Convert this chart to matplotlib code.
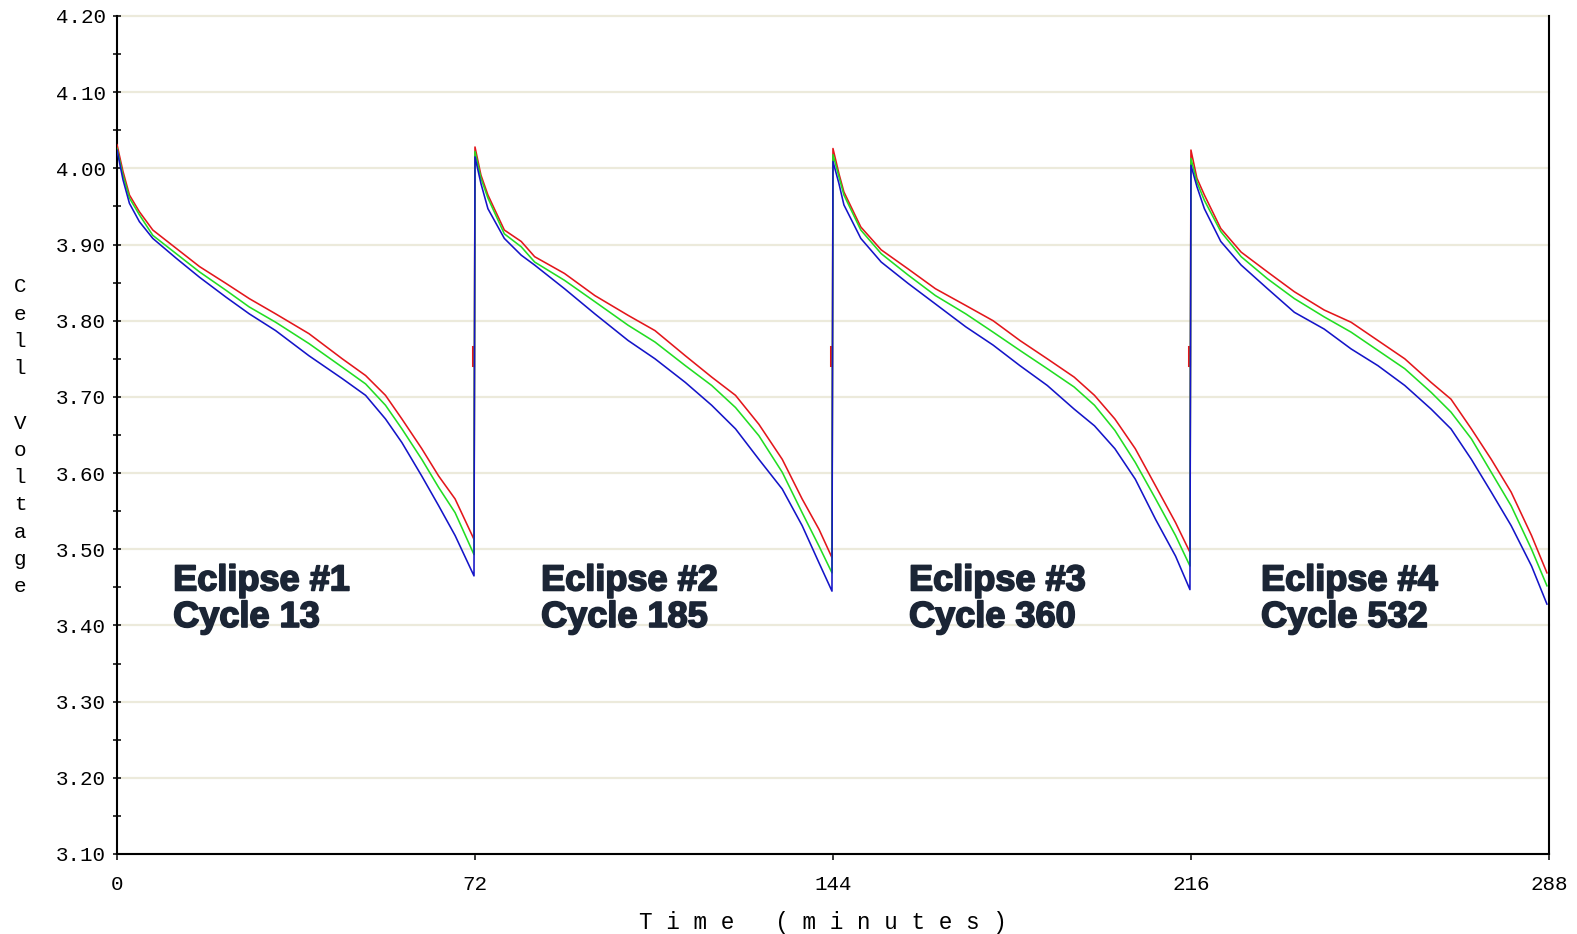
import numpy as np
import matplotlib
matplotlib.use("Agg")
import matplotlib.pyplot as plt
import matplotlib.patheffects as pe
from matplotlib.ticker import MultipleLocator, FormatStrFormatter

# minutes into each eclipse (each eclipse lasts 72 minutes)
t_e1 = [0, 1.2, 2.5, 4.5, 7.2, 11.9, 16.6, 21.9, 26.6, 31.9, 38.6, 45.3, 50.0, 54.0, 57.3, 61.3, 64.7, 68.0, 71.8]
t_e2 = [0, 1.2, 2.6, 5.9, 9.3, 12.0, 18.0, 24.1, 30.8, 36.2, 42.3, 47.6, 52.4, 57.1, 61.8, 65.8, 69.2, 71.8]
t_e3 = [0, 1.2, 2.2, 5.6, 9.7, 15.1, 20.6, 26.7, 32.2, 37.6, 43.1, 48.5, 52.6, 56.7, 60.8, 64.9, 68.9, 71.8]
t_e4 = [0, 1.2, 2.7, 6.0, 10.1, 15.4, 20.8, 26.8, 32.2, 37.6, 43.0, 48.3, 52.3, 56.4, 60.4, 64.4, 68.5, 71.6]

# cell voltages (V)
red_e1 = [4.031, 3.996, 3.965, 3.943, 3.919, 3.895, 3.871, 3.849, 3.829, 3.809, 3.783, 3.750, 3.728, 3.702, 3.671, 3.632, 3.596, 3.566, 3.513]
green_e1 = [4.026, 3.991, 3.961, 3.939, 3.912, 3.888, 3.864, 3.840, 3.818, 3.798, 3.770, 3.739, 3.717, 3.689, 3.658, 3.618, 3.581, 3.548, 3.493]
blue_e1 = [4.024, 3.985, 3.954, 3.930, 3.908, 3.882, 3.857, 3.831, 3.809, 3.787, 3.754, 3.724, 3.702, 3.671, 3.640, 3.596, 3.557, 3.518, 3.465]

red_e2 = [4.028, 3.991, 3.965, 3.919, 3.904, 3.884, 3.862, 3.833, 3.807, 3.787, 3.754, 3.726, 3.702, 3.664, 3.618, 3.566, 3.526, 3.489]
green_e2 = [4.022, 3.987, 3.961, 3.914, 3.897, 3.877, 3.853, 3.825, 3.794, 3.772, 3.741, 3.715, 3.686, 3.649, 3.601, 3.548, 3.504, 3.469]
blue_e2 = [4.015, 3.980, 3.947, 3.908, 3.886, 3.873, 3.842, 3.809, 3.774, 3.750, 3.719, 3.689, 3.658, 3.618, 3.579, 3.531, 3.482, 3.445]

red_e3 = [4.026, 3.993, 3.969, 3.923, 3.893, 3.868, 3.842, 3.820, 3.800, 3.774, 3.750, 3.726, 3.702, 3.671, 3.632, 3.583, 3.535, 3.496]
green_e3 = [4.018, 3.989, 3.965, 3.919, 3.888, 3.860, 3.833, 3.809, 3.785, 3.761, 3.737, 3.713, 3.689, 3.656, 3.614, 3.566, 3.518, 3.478]
blue_e3 = [4.009, 3.980, 3.952, 3.908, 3.877, 3.849, 3.822, 3.792, 3.768, 3.741, 3.715, 3.684, 3.662, 3.632, 3.592, 3.539, 3.491, 3.447]

red_e4 = [4.024, 3.987, 3.965, 3.921, 3.890, 3.864, 3.838, 3.814, 3.798, 3.774, 3.750, 3.719, 3.697, 3.658, 3.618, 3.575, 3.518, 3.469]
green_e4 = [4.013, 3.982, 3.958, 3.917, 3.884, 3.855, 3.829, 3.805, 3.785, 3.761, 3.737, 3.706, 3.680, 3.645, 3.601, 3.557, 3.500, 3.452]
blue_e4 = [4.004, 3.976, 3.947, 3.904, 3.873, 3.842, 3.811, 3.789, 3.763, 3.741, 3.715, 3.684, 3.658, 3.618, 3.575, 3.531, 3.478, 3.428]

# red trace momentarily stalls during each recharge step
recharge_times = [72, 144, 216]
red_step = [3.742, 3.766]

eclipse_labels = ["Eclipse #1", "Eclipse #2", "Eclipse #3", "Eclipse #4"]
cycle_labels = ["Cycle 13", "Cycle 185", "Cycle 360", "Cycle 532"]
label_minutes = [11.3, 85.3, 159.3, 230.1]
x_ticks = [0, 72, 144, 216, 288]

times = [t_e1, t_e2, t_e3, t_e4]
series = {
    "#E3161B": [red_e1, red_e2, red_e3, red_e4],
    "#22DD22": [green_e1, green_e2, green_e3, green_e4],
    "#1414C8": [blue_e1, blue_e2, blue_e3, blue_e4],
}

mono = "Liberation Mono"
ink = "#1B2535"

fig = plt.figure(figsize=(15.77, 9.34), dpi=100)
ax = fig.add_axes([0.0742, 0.0857, 0.9080, 0.8972])

for color, runs in series.items():
    t_all = np.concatenate([np.array(t) + 72 * k for k, t in enumerate(times)])
    v_all = np.concatenate(runs)
    ax.plot(t_all, v_all, color=color, lw=1.15, zorder=3)
    if color == "#E3161B":
        for tr in recharge_times:
            ax.plot([tr - 0.35, tr - 0.35], red_step, color=color, lw=2.2, zorder=2.5)

for x0, top_line, bottom_line in zip(label_minutes, eclipse_labels, cycle_labels):
    for y0, txt in [(3.446, top_line), (3.398, bottom_line)]:
        ax.text(x0, y0, txt, fontsize=26, fontweight="bold",
                family="Liberation Sans", color=ink, va="baseline",
                path_effects=[pe.withStroke(linewidth=1.3, foreground=ink)])

ax.set_xlim(0, 288)
ax.set_ylim(3.10, 4.20)
ax.set_xticks(x_ticks)
ax.yaxis.set_major_locator(MultipleLocator(0.1))
ax.yaxis.set_minor_locator(MultipleLocator(0.05))
ax.yaxis.set_major_formatter(FormatStrFormatter("%.2f"))

ax.set_axisbelow(True)
ax.yaxis.grid(True, which="major", color="#ECEADB", lw=1.6)
for gl in ax.get_ygridlines():
    gl.set_clip_on(False)

ax.spines["top"].set_visible(False)
for side in ["left", "right", "bottom"]:
    ax.spines[side].set_linewidth(1.5)
    ax.spines[side].set_color("black")

ax.tick_params(axis="y", which="both", direction="inout", length=6, width=1.1, pad=5,
               labelsize=15, right=False)
ax.tick_params(axis="x", direction="out", length=4, width=1.1, pad=11, labelsize=15)
for lab in ax.get_xticklabels() + ax.get_yticklabels():
    lab.set_family(mono)

# axis titles drawn letter by letter in the monospace face
fig.text(823 / 1577, 1 - 922 / 934, "T i m e   ( m i n u t e s )", family=mono,
         fontsize=16.3, ha="center", va="center")
for i, ch in enumerate("Cell Voltage"):
    if ch != " ":
        fig.text(20 / 1577, 1 - (287 + 27.25 * i) / 934, ch, family=mono,
                 fontsize=15, ha="center", va="center")

fig.savefig("out.png", dpi=100)
